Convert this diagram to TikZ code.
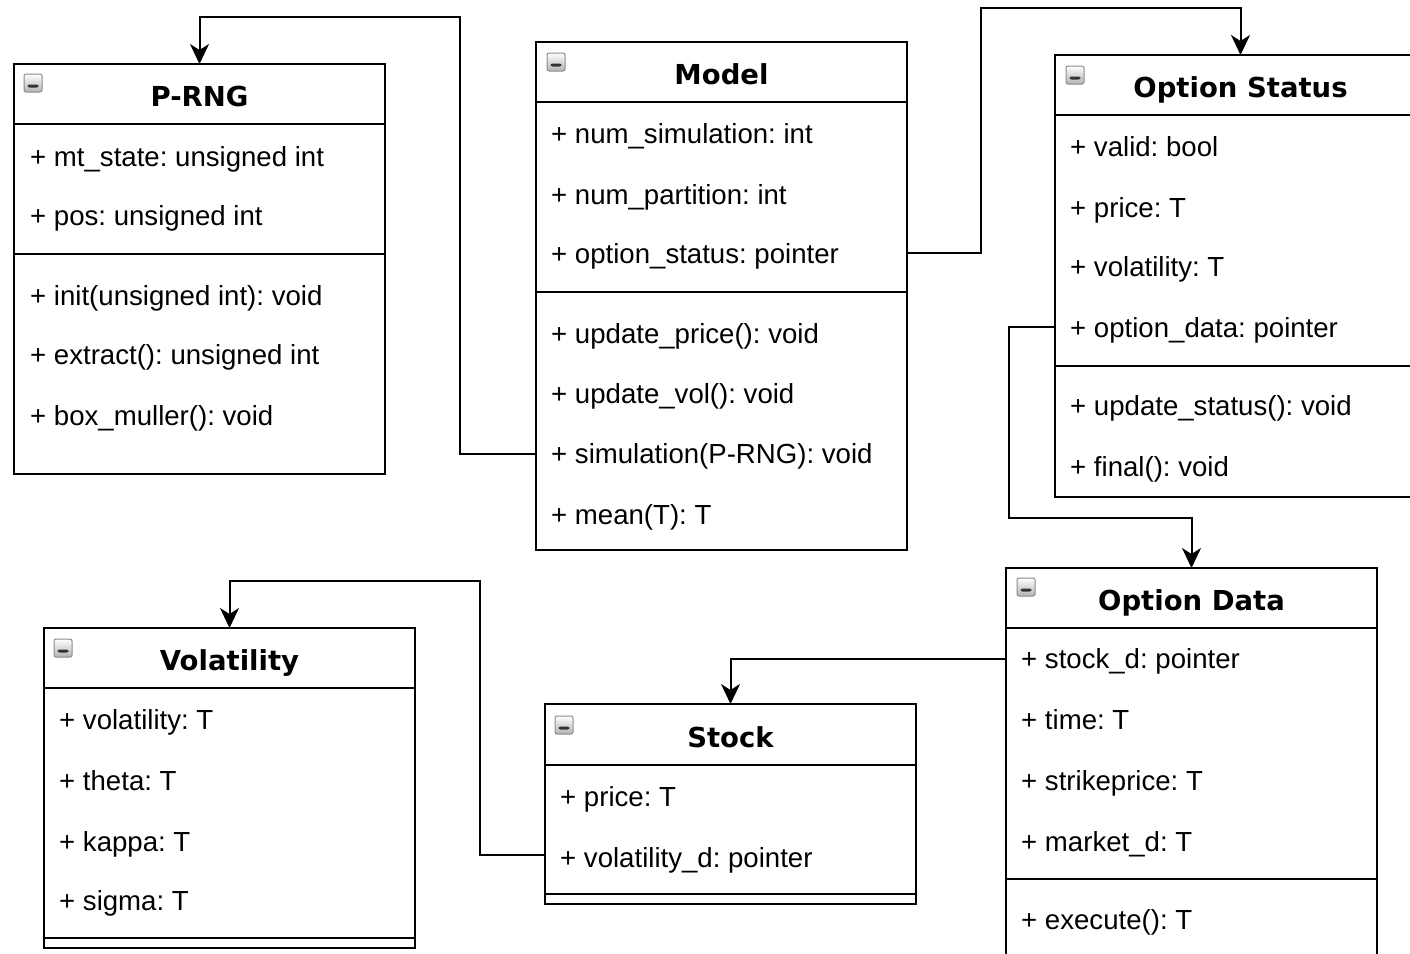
\documentclass[tikz,border=0pt]{standalone}
\usepackage{fontspec}
\setmainfont{Liberation Sans}
\newfontfamily\titlefont{DejaVu Sans}
\usetikzlibrary{arrows.meta}
\frenchspacing
\begin{document}
\begin{tikzpicture}[x=1pt,y=-1pt,
  umlbox/.style={draw=black,line width=2pt,rectangle,inner sep=0pt,outer sep=0pt,anchor=north west,minimum width=371pt},
  sep/.style={draw=black,line width=2pt},
  row/.style={anchor=base west,inner sep=0pt,font=\frenchspacing\fontsize{27.6}{30}\selectfont},
  ttl/.style={anchor=base,inner sep=0pt,font=\titlefont\bfseries\fontsize{27.5}{30}\selectfont},
  icon/.style={rectangle,rounded corners=2pt,minimum size=18pt,inner sep=0pt,draw=black!45,line width=1pt,top color=white,bottom color=black!30,
    path picture={\fill[black!80] ([xshift=-5.5pt,yshift=-1.5pt]path picture bounding box.center) rectangle ++(11,3);}},
  conn/.style={draw=black,line width=2pt},
  arr/.style={conn,-{Stealth[length=20pt,width=19pt,inset=6pt]}}
]
\useasboundingbox (0,0) rectangle (1410,953);
\clip (0,0) rectangle (1410,953);
\fill[white] (0,0) rectangle (1410,953);

% ---------- P-RNG ----------
\node[umlbox,minimum height=410pt] (prng) at (14,64) {};
\draw[sep] (14,124) -- (385,124);
\draw[sep] (14,254) -- (385,254);
\node[icon] (prngi) at (33,83) {};
\node[ttl] (prngt) at (199.5,106) {P-RNG};
\node[row] (p1) at (30,166) {+ mt\_state: unsigned int};
\node[row] (p2) at (30,225) {+ pos: unsigned int};
\node[row] (p3) at (30,305) {+ init(unsigned int): void};
\node[row] (p4) at (30,364) {+ extract(): unsigned int};
\node[row] (p5) at (30,425) {+ box\_muller(): void};

% ---------- Model ----------
\node[umlbox,minimum height=508pt] (model) at (536,42) {};
\draw[sep] (536,102) -- (907,102);
\draw[sep] (536,292) -- (907,292);
\node[icon] (modeli) at (556,62) {};
\node[ttl] (modelt) at (721.5,84) {Model};
\node[row] (m1) at (551,143) {+ num\_simulation: int};
\node[row] (m2) at (551,204) {+ num\_partition: int};
\node[row] (m3) at (551,263) {+ option\_status: pointer};
\node[row] (m4) at (551,343) {+ update\_price(): void};
\node[row] (m5) at (551,403) {+ update\_vol(): void};
\node[row] (m6) at (551,463) {+ simulation(P-RNG): void};
\node[row] (m7) at (551,524) {+ mean(T): T};

% ---------- Option Status ----------
\node[umlbox,minimum height=442pt] (ostat) at (1055,55) {};
\draw[sep] (1055,115) -- (1426,115);
\draw[sep] (1055,366) -- (1426,366);
\node[icon] (ostati) at (1075,75) {};
\node[ttl] (ostatt) at (1240.5,97) {Option Status};
\node[row] (s1) at (1070,156) {+ valid: bool};
\node[row] (s2) at (1070,217) {+ price: T};
\node[row] (s3) at (1070,276) {+ volatility: T};
\node[row] (s4) at (1070,337) {+ option\_data: pointer};
\node[row] (s5) at (1070,415) {+ update\_status(): void};
\node[row] (s6) at (1070,476) {+ final(): void};

% ---------- Option Data ----------
\node[umlbox,minimum height=420pt] (odata) at (1006,568) {};
\draw[sep] (1006,628) -- (1377,628);
\draw[sep] (1006,879) -- (1377,879);
\node[icon] (odatai) at (1026,587) {};
\node[ttl] (odatat) at (1191.5,610) {Option Data};
\node[row] (d1) at (1021,668) {+ stock\_d: pointer};
\node[row] (d2) at (1021,729) {+ time: T};
\node[row] (d3) at (1021,790) {+ strikeprice: T};
\node[row] (d4) at (1021,851) {+ market\_d: T};
\node[row] (d5) at (1021,929) {+ execute(): T};

% ---------- Volatility ----------
\node[umlbox,minimum height=320pt] (vol) at (44,628) {};
\draw[sep] (44,688) -- (415,688);
\draw[sep] (44,938) -- (415,938);
\node[icon] (voli) at (63,648) {};
\node[ttl] (volt) at (229.5,670) {Volatility};
\node[row] (v1) at (59,729) {+ volatility: T};
\node[row] (v2) at (59,790) {+ theta: T};
\node[row] (v3) at (59,851) {+ kappa: T};
\node[row] (v4) at (59,910) {+ sigma: T};

% ---------- Stock ----------
\node[umlbox,minimum height=200pt] (stock) at (545,704) {};
\draw[sep] (545,765) -- (916,765);
\draw[sep] (545,894) -- (916,894);
\node[icon] (stocki) at (564,725) {};
\node[ttl] (stockt) at (730.5,747) {Stock};
\node[row] (k1) at (560,806) {+ price: T};
\node[row] (k2) at (560,867) {+ volatility\_d: pointer};

% ---------- connectors ----------
\coordinate (cSim) at (536,454);
\coordinate (cB1) at (460,17);
\draw[arr] (cSim) -| (cB1) -| (prng.north);

\coordinate (cOS) at (907,253);
\coordinate (cB2) at (981,8);
\draw[arr] (cOS) -| (cB2) -| (ostat.north);

\coordinate (cOD) at (1055,327);
\coordinate (cB3) at (1009,518);
\draw[arr] (cOD) -| (cB3) -| (odata.north);

\coordinate (cSD) at (1006,659);
\draw[arr] (cSD) -| (stock.north);

\coordinate (cVD) at (545,855);
\coordinate (cB5) at (480,581);
\draw[arr] (cVD) -| (cB5) -| (vol.north);
\end{tikzpicture}
\end{document}
